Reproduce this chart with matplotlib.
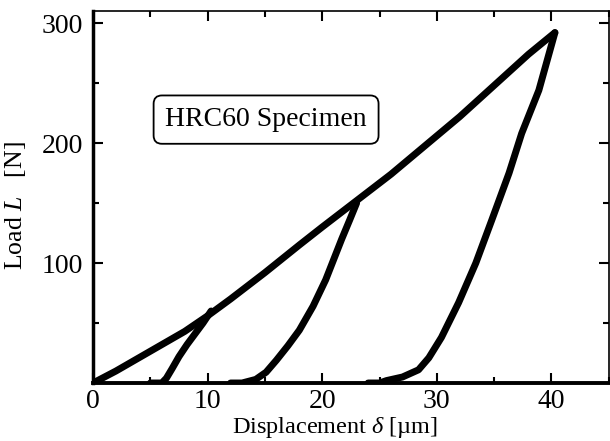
import matplotlib
matplotlib.use('Agg')
import matplotlib.pyplot as plt
from matplotlib.ticker import MultipleLocator

# ---------------------------------------------------------
# DATA
# ---------------------------------------------------------
# loading branch, displacement [um] / load [N]
load_d = [0, 1, 2, 4, 6, 8, 10, 12, 15, 18, 20, 23, 26, 29, 32, 35, 38, 40.3]
load_L = [0, 5, 10, 21, 32, 43, 56, 70, 92, 115, 130, 152, 174, 198, 222, 248, 274, 292]

# unloading branches
unl1_d = [10.3, 9.6, 8.9, 8.2, 7.5, 6.9, 6.4, 6.0, 5.0]
unl1_L = [60, 50, 41, 32, 22, 12, 4, 0, 0]

unl2_d = [23.0, 22.4, 21.7, 21.0, 20.3, 19.2, 18.0, 17.0, 16.0, 15.1, 14.2, 13.0, 12.0]
unl2_L = [150, 136, 120, 103, 86, 64, 44, 31, 19, 9, 3, 0, 0]

unl3_d = [40.3, 38.9, 37.4, 36.3, 34.8, 33.4, 31.9, 30.4, 29.3, 28.4, 27.0, 25.6, 25.0, 24.0]
unl3_L = [292, 244, 208, 175, 136, 100, 67, 38, 21, 11, 5, 2, 0, 0]

X_TICKS = [0, 10, 20, 30, 40]
Y_TICKS = [100, 200, 300]

plt.rcParams['font.family'] = ['Liberation Serif', 'DejaVu Serif']
plt.rcParams['mathtext.fontset'] = 'custom'
plt.rcParams['mathtext.rm'] = 'Liberation Serif'
plt.rcParams['mathtext.it'] = 'Liberation Serif:italic'

fig = plt.figure(figsize=(6.10, 4.41), dpi=100)
ax = fig.add_axes([0.1525, 0.1315, 0.8455, 0.8435])

for d, L in [(load_d, load_L), (unl1_d, unl1_L), (unl2_d, unl2_L), (unl3_d, unl3_L)]:
    ax.plot(d, L, color='black', lw=5, solid_capstyle='round', solid_joinstyle='round')

ax.set_xlim(0, 45)
ax.set_ylim(0, 310)
ax.set_xticks(X_TICKS)
ax.set_yticks(Y_TICKS)
ax.xaxis.set_minor_locator(MultipleLocator(5))
ax.yaxis.set_minor_locator(MultipleLocator(50))
ax.tick_params(which='both', direction='in', top=True, right=True, labelsize=20, width=1.5)
ax.tick_params(which='major', length=7)
ax.tick_params(which='minor', length=4)
ax.tick_params(axis='y', pad=7)
ax.tick_params(axis='x', pad=4)

ax.spines['left'].set_linewidth(2.5)
ax.spines['bottom'].set_linewidth(2.8)
ax.spines['top'].set_linewidth(1.2)
ax.spines['right'].set_linewidth(1.2)

ax.set_xlabel('Displacement $\\delta$ [µm]', fontsize=17.5)
ax.set_ylabel('Load $L$   [N]', fontsize=18.5)
ax.xaxis.set_label_coords(0.47, -0.086)
ax.yaxis.set_label_coords(-0.126, 0.478)

ax.text(15.1, 219.5, 'HRC60 Specimen', fontsize=20, ha='center', va='center',
        bbox=dict(boxstyle='round,pad=0.42,rounding_size=0.3', fc='white', ec='black', lw=1.3))

fig.savefig('out.png', dpi=100)
